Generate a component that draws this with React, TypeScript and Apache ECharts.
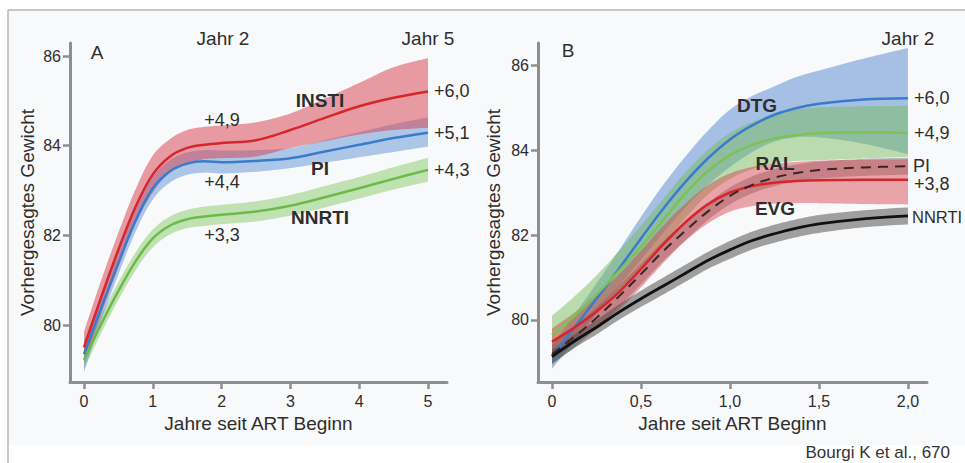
import React, { useEffect, useRef } from "react";
import * as echarts from "echarts";

// ---------- Panel A (x: years 0..5) ----------
const xA = [0, 0.25, 0.5, 0.75, 1, 1.25, 1.5, 1.75, 2, 2.5, 3, 3.5, 4, 4.5, 5];
const instiMean = [79.5, 80.62, 81.68, 82.64, 83.36, 83.76, 83.95, 84.02, 84.06, 84.12, 84.35, 84.62, 84.88, 85.07, 85.21];
const instiHi = [79.85, 81.0, 82.06, 83.03, 83.78, 84.15, 84.35, 84.42, 84.45, 84.52, 84.72, 85.05, 85.4, 85.75, 85.95];
const instiLo = [79.15, 80.24, 81.3, 82.26, 82.96, 83.4, 83.6, 83.7, 83.72, 83.76, 83.95, 84.1, 84.25, 84.35, 84.4];
const piAMean = [79.35, 80.38, 81.38, 82.33, 83.05, 83.43, 83.6, 83.65, 83.63, 83.66, 83.72, 83.87, 84.02, 84.17, 84.29];
const piAHi = [79.65, 80.64, 81.63, 82.58, 83.3, 83.68, 83.85, 83.9, 83.89, 83.9, 83.95, 84.12, 84.3, 84.48, 84.63];
const piALo = [78.95, 80.1, 81.13, 82.08, 82.8, 83.18, 83.35, 83.4, 83.38, 83.42, 83.5, 83.62, 83.74, 83.86, 83.98];
const nnrtiAMean = [79.22, 80.02, 80.76, 81.42, 81.93, 82.22, 82.36, 82.42, 82.46, 82.53, 82.66, 82.85, 83.05, 83.26, 83.46];
const nnrtiAHi = [79.42, 80.22, 80.96, 81.62, 82.13, 82.42, 82.57, 82.64, 82.68, 82.76, 82.9, 83.1, 83.3, 83.52, 83.73];
const nnrtiALo = [79.02, 79.82, 80.56, 81.22, 81.73, 82.02, 82.16, 82.21, 82.25, 82.31, 82.44, 82.62, 82.82, 83.02, 83.2];

// ---------- Panel B (x: years 0..2) ----------
const xB = [0, 0.125, 0.25, 0.375, 0.5, 0.625, 0.75, 0.875, 1.0, 1.125, 1.25, 1.375, 1.5, 1.75, 2.0];
const dtgMean = [79.15, 79.82, 80.5, 81.2, 81.92, 82.62, 83.25, 83.8, 84.25, 84.58, 84.83, 84.99, 85.09, 85.19, 85.22];
const dtgHi = [79.4, 80.12, 80.86, 81.63, 82.43, 83.18, 83.85, 84.45, 84.95, 85.27, 85.5, 85.72, 85.87, 86.15, 86.4];
const dtgLo = [78.85, 79.5, 80.15, 80.8, 81.42, 82.05, 82.65, 83.17, 83.6, 83.95, 84.2, 84.3, 84.3, 84.15, 83.9];
const ralMean = [79.65, 80.1, 80.6, 81.15, 81.72, 82.35, 82.98, 83.5, 83.88, 84.12, 84.27, 84.35, 84.4, 84.42, 84.4];
const ralHi = [80.1, 80.55, 81.05, 81.62, 82.22, 82.85, 83.48, 84.0, 84.4, 84.66, 84.84, 84.95, 85.0, 85.03, 85.04];
const ralLo = [79.25, 79.65, 80.15, 80.68, 81.22, 81.8, 82.4, 82.95, 83.32, 83.55, 83.68, 83.74, 83.76, 83.8, 83.84];
const evgMean = [79.49, 79.82, 80.2, 80.65, 81.2, 81.78, 82.3, 82.72, 83.0, 83.15, 83.23, 83.27, 83.29, 83.3, 83.3];
const evgHi = [79.8, 80.17, 80.58, 81.07, 81.63, 82.22, 82.74, 83.17, 83.45, 83.6, 83.68, 83.72, 83.75, 83.77, 83.78];
const evgLo = [79.2, 79.47, 79.82, 80.23, 80.77, 81.34, 81.86, 82.27, 82.55, 82.68, 82.74, 82.75, 82.75, 82.73, 82.72];
const piBMean = [79.2, 79.6, 80.05, 80.55, 81.08, 81.62, 82.1, 82.55, 82.92, 83.18, 83.35, 83.46, 83.53, 83.59, 83.62];
const piBHi = [79.45, 79.85, 80.3, 80.8, 81.32, 81.85, 82.32, 82.75, 83.12, 83.38, 83.55, 83.66, 83.73, 83.79, 83.82];
const piBLo = [78.95, 79.35, 79.8, 80.3, 80.84, 81.39, 81.88, 82.35, 82.72, 82.98, 83.15, 83.26, 83.33, 83.39, 83.42];
const nnrtiBMean = [79.14, 79.5, 79.83, 80.18, 80.5, 80.8, 81.1, 81.4, 81.65, 81.87, 82.03, 82.16, 82.26, 82.38, 82.45];
const nnrtiBHi = [79.3, 79.66, 80.0, 80.36, 80.69, 81.0, 81.3, 81.6, 81.86, 82.08, 82.24, 82.37, 82.47, 82.58, 82.65];
const nnrtiBLo = [78.98, 79.34, 79.66, 80.0, 80.31, 80.6, 80.9, 81.2, 81.44, 81.66, 81.82, 81.95, 82.05, 82.18, 82.25];

// ---------- Ticks ----------
const yTicks = [80, 82, 84, 86];
const xTicksA = [0, 1, 2, 3, 4, 5];
const xTicksB = [0, 0.5, 1.0, 1.5, 2.0];

const FONT = "'Liberation Sans', Arial, Helvetica, sans-serif";
const SMOOTH = 0.35;
const AXIS_COLOR = "#8e8e8e";
const TEXT = "#2e2e2e";

function smoothPts(p: number[][], s = SMOOTH, steps = 12): number[][] {
  const n = p.length;
  const cpN: number[][] = [];
  const cpP: number[][] = [];
  for (let i = 0; i < n; i++) {
    if (i === 0 || i === n - 1) {
      cpN[i] = p[i];
      cpP[i] = p[i];
      continue;
    }
    const vx = p[i + 1][0] - p[i - 1][0];
    const vy = p[i + 1][1] - p[i - 1][1];
    const d0 = Math.hypot(p[i][0] - p[i - 1][0], p[i][1] - p[i - 1][1]);
    const d1 = Math.hypot(p[i + 1][0] - p[i][0], p[i + 1][1] - p[i][1]);
    const r = d1 / (d0 + d1 || 1);
    cpN[i] = [p[i][0] + vx * s * r, p[i][1] + vy * s * r];
    cpP[i] = [p[i][0] - vx * s * (1 - r), p[i][1] - vy * s * (1 - r)];
  }
  const out: number[][] = [p[0]];
  for (let i = 0; i < n - 1; i++) {
    const a = p[i], b = cpN[i], c = cpP[i + 1], d = p[i + 1];
    for (let k = 1; k <= steps; k++) {
      const t = k / steps, u = 1 - t;
      out.push([
        u * u * u * a[0] + 3 * u * u * t * b[0] + 3 * u * t * t * c[0] + t * t * t * d[0],
        u * u * u * a[1] + 3 * u * u * t * b[1] + 3 * u * t * t * c[1] + t * t * t * d[1],
      ]);
    }
  }
  return out;
}

function bandSeries(xs: number[], lo: number[], hi: number[], color: string, ax: number) {
  return {
    type: "custom",
    xAxisIndex: ax,
    yAxisIndex: ax,
    silent: true,
    clip: true,
    z: 2,
    dimensions: ["x", "lo", "hi"],
    encode: { x: 0, y: [1, 2] },
    data: xs.map((x, i) => [x, lo[i], hi[i]]),
    renderItem: (params: any, api: any) => {
      if (params.dataIndexInside !== 0) return null;
      const n = params.dataInsideLength;
      const up: number[][] = [];
      const dn: number[][] = [];
      for (let i = 0; i < n; i++) {
        const xv = api.value(0, i);
        up.push(api.coord([xv, api.value(2, i)]));
        dn.push(api.coord([xv, api.value(1, i)]));
      }
      const pts = smoothPts(up).concat(smoothPts(dn).reverse());
      return { type: "polygon", shape: { points: pts }, style: { fill: color } };
    },
  };
}

function lineSeries(xs: number[], ys: number[], color: string, ax: number, width = 2.5, dashed = false) {
  return {
    type: "line",
    xAxisIndex: ax,
    yAxisIndex: ax,
    silent: true,
    z: 5,
    smooth: SMOOTH,
    symbol: "none",
    data: xs.map((x, i) => [x, ys[i]]),
    lineStyle: { color, width, type: dashed ? [10, 7] : "solid" },
  };
}

function txt(text: string, x: number, y: number, size: number, align = "center", bold = false, color = TEXT) {
  return {
    type: "text",
    x,
    y,
    z: 100,
    silent: true,
    style: {
      text,
      font: `${bold ? "bold " : ""}${size}px ${FONT}`,
      fill: color,
      textAlign: align,
      textVerticalAlign: "middle",
      align,
      verticalAlign: "middle",
    },
  };
}

const baseAxis = {
  type: "value",
  axisLine: { show: true, onZero: false, lineStyle: { color: AXIS_COLOR, width: 3 } },
  splitLine: { show: false },
  nameTextStyle: { color: TEXT, fontSize: 19, fontFamily: FONT },
};

export default function App() {
  const ref = useRef<HTMLDivElement>(null);
  useEffect(() => {
    if (!ref.current) return;
    const chart = echarts.init(ref.current, undefined, { renderer: "svg" });
    const fmtB = (v: number) => (v === 0 ? "0" : v.toFixed(1).replace(".", ","));
    const option: any = {
      animation: false,
      backgroundColor: "#ffffff",
      grid: [
        { left: 70, top: 43, width: 377, height: 339, containLabel: false },
        { left: 538, top: 43, width: 389, height: 339, containLabel: false },
      ],
      xAxis: [
        {
          ...baseAxis,
          gridIndex: 0,
          min: -0.2035,
          max: 5.276,
          name: "Jahre seit ART Beginn",
          nameLocation: "middle",
          nameGap: 31,
          axisTick: { show: true, length: 7, customValues: xTicksA, lineStyle: { color: AXIS_COLOR, width: 2.5 } },
          axisLabel: { customValues: xTicksA, margin: 11, color: TEXT, fontSize: 16, fontFamily: FONT, formatter: (v: number) => String(v) },
        },
        {
          ...baseAxis,
          gridIndex: 1,
          min: -0.0787,
          max: 2.107,
          name: "Jahre seit ART Beginn",
          nameLocation: "middle",
          nameGap: 31,
          axisTick: { show: true, length: 7, customValues: xTicksB, lineStyle: { color: AXIS_COLOR, width: 2.5 } },
          axisLabel: { customValues: xTicksB, margin: 11, color: TEXT, fontSize: 16, fontFamily: FONT, formatter: fmtB },
        },
      ],
      yAxis: [
        {
          ...baseAxis,
          gridIndex: 0,
          min: 78.729,
          max: 86.29,
          name: "Vorhergesagtes Gewicht",
          nameLocation: "middle",
          nameGap: 33,
          axisTick: { show: true, length: 7, customValues: yTicks, lineStyle: { color: AXIS_COLOR, width: 2.5 } },
          axisLabel: { customValues: yTicks, margin: 9, color: TEXT, fontSize: 16, fontFamily: FONT },
        },
        {
          ...baseAxis,
          gridIndex: 1,
          min: 78.541,
          max: 86.518,
          name: "Vorhergesagtes Gewicht",
          nameLocation: "middle",
          nameGap: 35,
          axisTick: { show: true, length: 7, customValues: yTicks, lineStyle: { color: AXIS_COLOR, width: 2.5 } },
          axisLabel: { customValues: yTicks, margin: 9, color: TEXT, fontSize: 16, fontFamily: FONT },
        },
      ],
      graphic: [
        { type: "rect", z: -10, silent: true, shape: { x: 9, y: 11, width: 960, height: 434 }, style: { fill: "#f8f9fa" } },
        { type: "line", z: -5, silent: true, shape: { x1: 8, y1: 10, x2: 965, y2: 10 }, style: { stroke: "#b4b4b4", lineWidth: 1.5 } },
        { type: "line", z: -5, silent: true, shape: { x1: 8, y1: 10, x2: 8, y2: 463 }, style: { stroke: "#b4b4b4", lineWidth: 1.5 } },
        // Panel A texts
        txt("A", 97, 52, 19),
        txt("Jahr 2", 223, 38, 19),
        txt("Jahr 5", 428, 38, 19),
        txt("INSTI", 320, 100, 19, "center", true),
        txt("+4,9", 222, 120, 18),
        txt("+6,0", 434, 91, 18, "left"),
        txt("+5,1", 434, 133, 18, "left"),
        txt("PI", 320, 168, 19, "center", true),
        txt("+4,4", 222, 182, 18),
        txt("+4,3", 434, 170, 18, "left"),
        txt("NNRTI", 320, 217, 19, "center", true),
        txt("+3,3", 222, 235, 18),
        // Panel B texts
        txt("B", 568, 50, 19),
        txt("Jahr 2", 908, 38, 19),
        txt("DTG", 757, 105, 19, "center", true),
        txt("+6,0", 914, 98, 18, "left"),
        txt("+4,9", 914, 133, 18, "left"),
        txt("RAL", 775, 163, 19, "center", true),
        txt("PI", 913, 166, 18, "left"),
        txt("+3,8", 914, 184, 18, "left"),
        txt("EVG", 775, 208, 19, "center", true),
        txt("NNRTI", 912, 217, 16.5, "left"),
        txt("Bourgi K et al., 670", 950, 452, 17, "right", false, "#333"),
      ],
      series: [
        // Panel A bands
        bandSeries(xA, nnrtiALo, nnrtiAHi, "rgba(125,195,90,0.45)", 0),
        bandSeries(xA, piALo, piAHi, "rgba(80,135,210,0.45)", 0),
        bandSeries(xA, instiLo, instiHi, "rgba(214,60,72,0.5)", 0),
        // Panel A lines
        lineSeries(xA, nnrtiAMean, "#6cba48", 0),
        lineSeries(xA, piAMean, "#3a7ccc", 0),
        lineSeries(xA, instiMean, "#d4262c", 0),
        // Panel B bands
        bandSeries(xB, dtgLo, dtgHi, "rgba(75,130,205,0.48)", 1),
        bandSeries(xB, ralLo, ralHi, "rgba(120,185,90,0.48)", 1),
        bandSeries(xB, piBLo, piBHi, "rgba(90,90,90,0.4)", 1),
        bandSeries(xB, evgLo, evgHi, "rgba(215,60,72,0.45)", 1),
        bandSeries(xB, nnrtiBLo, nnrtiBHi, "rgba(70,70,70,0.5)", 1),
        // Panel B lines
        lineSeries(xB, dtgMean, "#3a7ccc", 1),
        lineSeries(xB, ralMean, "#7cc255", 1),
        lineSeries(xB, evgMean, "#d4262c", 1),
        lineSeries(xB, piBMean, "#3a2424", 1, 2, true),
        lineSeries(xB, nnrtiBMean, "#111111", 1, 2.8),
      ],
    };
    chart.setOption(option);
    return () => chart.dispose();
  }, []);
  return (
    <div
      ref={ref}
      style={{ position: "fixed", left: 0, top: 0, width: 965, height: 463, background: "#fff" }}
    />
  );
}
